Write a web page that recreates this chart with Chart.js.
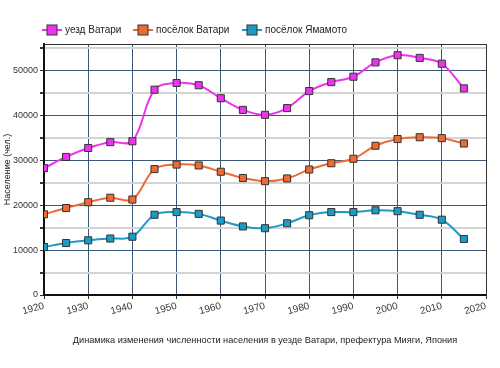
<!DOCTYPE html>
<html><head><meta charset="utf-8">
<script src="https://cdn.jsdelivr.net/npm/chart.js@4/dist/chart.umd.min.js"></script>
<style>html,body{margin:0;padding:0;background:#fff}#w{width:500px;height:368px}</style>
</head><body><div id="w"><canvas id="c" width="500" height="368"></canvas></div>
<script>
const years = [1920,1925,1930,1935,1940,1945,1950,1955,1960,1965,1970,1975,1980,1985,1990,1995,2000,2005,2010,2015];
const uezdWatari = [28300,30800,32800,34100,34300,45800,47300,46800,43900,41300,40200,41700,45500,47500,48700,51900,53500,52900,51600,46100];
const poselokWatari = [18000,19400,20700,21700,21300,28100,29100,28900,27500,26100,25400,26000,28000,29400,30400,33300,34800,35200,35000,33800];
const poselokYamamoto = [10700,11600,12200,12600,13000,17900,18500,18100,16600,15300,14900,16000,17800,18500,18500,18900,18700,17900,16800,12500];
const seriesNames = ['уезд Ватари','посёлок Ватари','посёлок Ямамото'];
const xTicks = [1920,1930,1940,1950,1960,1970,1980,1990,2000,2010,2020];
const yLabels = [0,10000,20000,30000,40000,50000];
const titleText = 'Динамика изменения численности населения в уезде Ватари, префектура Мияги, Япония';
const yTitle = 'Население (чел.)';

const colors = [
  {line:'#ee33ee', fill:'#ee33ee'},
  {line:'#f06a33', fill:'#f06a33'},
  {line:'#1d9ac6', fill:'#1d9ac6'}
];
const FONT = 'Liberation Sans';

function mk(name, vals, c){
  return {
    label: name,
    data: years.map((y,i)=>({x:y,y:vals[i]})),
    borderColor: c.line,
    backgroundColor: c.fill,
    borderWidth: 2,
    pointStyle: 'rect',
    pointRadius: 5,
    pointBorderColor: '#333',
    pointBorderWidth: 1,
    pointBackgroundColor: c.fill,
    tension: 0.35
  };
}

const legendStarts = [52, 143, 252];
const customLegend = {
  id:'customLegend',
  afterDraw(chart){
    const ctx = chart.ctx, cy = 30;
    chart.data.datasets.forEach((ds,i)=>{
      const cx = legendStarts[i];
      ctx.save();
      ctx.strokeStyle = ds.borderColor; ctx.lineWidth = 2;
      ctx.beginPath(); ctx.moveTo(cx-10,cy); ctx.lineTo(cx+10,cy); ctx.stroke();
      ctx.fillStyle = ds.backgroundColor; ctx.strokeStyle='#333'; ctx.lineWidth=1;
      ctx.fillRect(cx-5,cy-5,10,10); ctx.strokeRect(cx-5,cy-5,10,10);
      ctx.fillStyle = '#222'; ctx.font = '10px "'+FONT+'"'; ctx.textBaseline='middle'; ctx.textAlign='left';
      ctx.fillText(ds.label, cx+13, cy);
      ctx.restore();
    });
    const a = chart.chartArea;
    ctx.save();
    ctx.fillStyle = '#222'; ctx.font = '9.2px "'+FONT+'"'; ctx.textAlign='center'; ctx.textBaseline='middle';
    ctx.fillText(titleText, (a.left+a.right)/2, 340);
    ctx.restore();
  }
};
const frame = {
  id:'frame',
  beforeDatasetsDraw(chart){
    const a = chart.chartArea, ctx = chart.ctx;
    ctx.save();
    ctx.strokeStyle = '#333'; ctx.lineWidth = 1;
    ctx.beginPath();
    ctx.moveTo(a.left, a.top+0.5); ctx.lineTo(a.right+0.5, a.top+0.5); ctx.lineTo(a.right+0.5, a.bottom);
    ctx.stroke();
    ctx.restore();
  }
};

new Chart(document.getElementById('c'), {
  type:'line',
  data:{datasets:[
    mk(seriesNames[0], uezdWatari, colors[0]),
    mk(seriesNames[1], poselokWatari, colors[1]),
    mk(seriesNames[2], poselokYamamoto, colors[2])
  ]},
  options:{
    responsive:false, animation:false,
    layout:{padding:{left:0,right:14,top:44,bottom:45}},
    plugins:{
      legend:{display:false},
      title:{display:false},
      tooltip:{enabled:false}
    },
    scales:{
      x:{
        type:'linear', min:1920, max:2020,
        afterBuildTicks(s){ s.ticks = xTicks.map(v=>({value:v})); },
        afterFit(s){ s.height = 28; },
        grid:{color:'#3c5878', lineWidth:1, drawTicks:true, tickLength:4, tickColor:'#333'},
        border:{color:'#111', width:2},
        ticks:{minRotation:15, maxRotation:15, color:'#333', font:{family:FONT,size:10}, padding:1,
          callback:(v)=> String(v)}
      },
      y:{
        min:0, max:56000,
        afterBuildTicks(s){ const t=[]; for(let v=0;v<=55000;v+=5000) t.push({value:v}); s.ticks=t; },
        afterFit(s){ s.width = 44; },
        grid:{
          color:(c)=> (c.tick && c.tick.value % 10000 === 0) ? '#3c5878' : '#d4d4d4',
          lineWidth:(c)=> (c.tick && c.tick.value % 10000 === 0) ? 1 : 2,
          tickLength:4, tickColor:'#333'
        },
        border:{color:'#111', width:2},
        title:{display:true, text:yTitle, color:'#222', font:{family:FONT,size:9}, padding:{top:2,bottom:0}},
        ticks:{
          color:'#333', font:{family:FONT,size:9}, padding:2,
          callback:(v)=> yLabels.includes(v) ? String(v) : ''
        }
      }
    }
  },
  plugins:[customLegend, frame]
});
</script></body></html>
